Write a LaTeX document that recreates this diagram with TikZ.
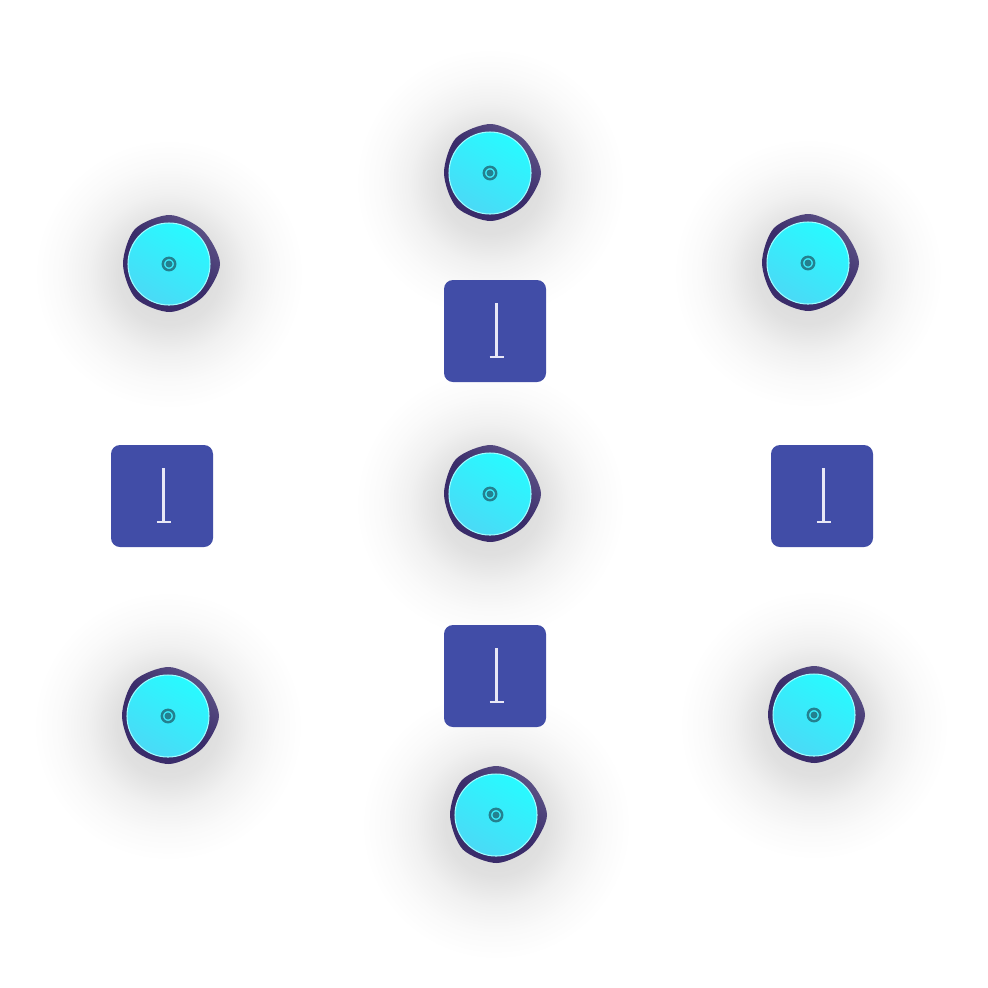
\documentclass[tikz,border=0pt]{standalone}
\definecolor{tileblue}{RGB}{65,77,167}
\definecolor{blobpurple}{RGB}{58,44,106}
\definecolor{blobedge}{RGB}{92,82,134}
\definecolor{disctop}{RGB}{40,250,255}
\definecolor{discbot}{RGB}{74,218,246}
\definecolor{ringteal}{RGB}{36,128,143}
\definecolor{glyphwhite}{RGB}{232,232,246}
\pgfdeclareradialshading{haloshade}{\pgfpoint{0bp}{0bp}}{color(0bp)=(black!16); color(9.5bp)=(black!12); color(15bp)=(black!5.5); color(20bp)=(black!2); color(25bp)=(white); color(50bp)=(white)}
\tikzset{
	halo/.style={shading=haloshade},
	blob/.style={top color=blobedge, bottom color=blobpurple, middle color=blobpurple, shading angle=-40},
	disc/.style={top color=disctop, bottom color=discbot, shading angle=-30, draw=disctop!45!white, line width=0.3pt},
	tile/.style={fill=tileblue, rounded corners=0.09cm, minimum size=1.02cm, inner sep=0pt},
	glyph/.style={draw=glyphwhite, line width=0.6pt}
}
\begin{document}
\begin{tikzpicture}
	\useasboundingbox[fill=white] (0,0) rectangle (9.88,-9.87);
	% soft shadows
	\foreach \x/\y in {4.90/1.73, 1.69/2.64, 8.08/2.63, 4.90/4.94, 1.68/7.16, 8.14/7.15, 4.96/8.15} {
	\shade[halo] (\x,-\y-0.1) circle(1.35cm);
	}
	% tiles
	\foreach \i/\x/\y in {1/4.95/3.31, 2/1.62/4.96, 3/8.22/4.96, 4/4.95/6.76} {
	\node[tile] (tile\i) at (\x,-\y) {};
	\draw[glyph] ([xshift=0.015cm,yshift=0.28cm]tile\i.center) -- ([xshift=0.015cm,yshift=-0.26cm]tile\i.center);
	\draw[glyph] ([xshift=-0.055cm,yshift=-0.26cm]tile\i.center) -- ([xshift=0.085cm,yshift=-0.26cm]tile\i.center);
	}
	% discs
	\foreach \x/\y in {4.90/1.73, 1.69/2.64, 8.08/2.63, 4.90/4.94, 1.68/7.16, 8.14/7.15, 4.96/8.15} {
	\shade[blob, shift={(\x+0.01,-\y)}] plot[smooth cycle] coordinates {(0:0.50) (45:0.47) (90:0.49) (135:0.495) (180:0.47) (225:0.485) (270:0.48) (315:0.465)};
	\shade[disc] (\x,-\y) circle(0.41cm);
	\draw[ringteal, line width=0.7pt] (\x,-\y) circle(0.062cm);
	\fill[ringteal] (\x,-\y) circle(0.035cm);
	}
\end{tikzpicture}
\end{document}
